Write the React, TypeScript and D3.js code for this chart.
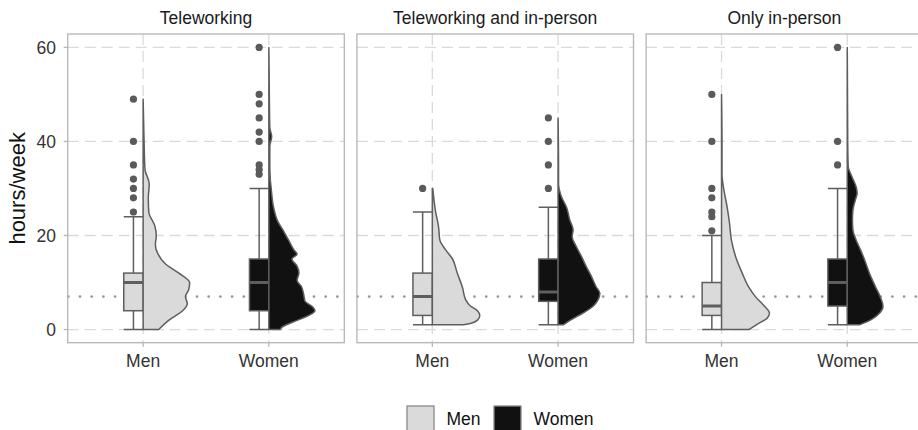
import React from "react";
import * as d3 from "d3";

// ---------- data ----------
const facets = ["Teleworking", "Teleworking and in-person", "Only in-person"];
const groups = ["Men", "Women"];
const yTicks = [0, 20, 40, 60];
const referenceHours = 7;

// box stats: [lowerWhisker, q1, median, q3, upperWhisker] per facet, per group
const menBoxes = [
  [0, 4, 10, 12, 24],
  [1, 3, 7, 12, 25],
  [0, 3, 5, 10, 20],
];
const womenBoxes = [
  [0, 4, 10, 15, 30],
  [1, 6, 8, 15, 26],
  [1, 5, 10, 15, 30],
];

const menOutliers = [
  [49, 40, 35, 32, 30, 28, 25],
  [30],
  [50, 40, 30, 28, 25, 24, 21],
];
const womenOutliers = [
  [60, 50, 48, 45, 42, 40, 35, 34, 33],
  [45, 40, 35, 30],
  [60, 40, 35],
];

// half-violin density profiles: [hours, relative density]
const menDensity1: [number, number][] = [[49,0],[40,0.02],[34,0.04],[31,0.13],[28,0.11],[25,0.12],[22,0.25],[20,0.28],[18,0.26],[16,0.32],[14,0.47],[12,0.76],[10,0.99],[8.5,0.97],[7,0.9],[5.5,0.94],[4,0.84],[2,0.55],[0,0.33]];
const womenDensity1: [number, number][] = [[60,0],[50,0.01],[43,0.02],[41,0.06],[39,0.02],[35,0.02],[32,0.03],[30,0.05],[26,0.1],[23,0.19],[21,0.31],[19,0.42],[17,0.53],[16,0.6],[15,0.49],[13.5,0.6],[12,0.64],[10.5,0.6],[9,0.7],[7.5,0.74],[6,0.77],[5,0.91],[4,0.98],[3,0.85],[1.5,0.49],[0.5,0.28],[0,0.24]];
const menDensity2: [number, number][] = [[30,0.01],[25,0.07],[22,0.13],[19,0.16],[17,0.28],[15,0.43],[12,0.53],[9,0.64],[6.3,0.71],[5,0.81],[4,0.96],[3,1.01],[2,0.96],[1.3,0.81],[1,0.66]];
const womenDensity2: [number, number][] = [[45,0],[35,0.01],[31,0.01],[28.3,0.07],[26,0.18],[23.3,0.25],[21.2,0.32],[19.8,0.3],[17.6,0.39],[15.5,0.5],[13.4,0.6],[11.3,0.71],[9.1,0.81],[7.7,0.89],[6.3,0.85],[4.9,0.74],[3.5,0.53],[2.1,0.28],[1,0.11]];
const menDensity3: [number, number][] = [[50,0],[40,0.01],[33,0.01],[29.7,0.05],[26,0.12],[22.6,0.17],[19,0.21],[15.5,0.3],[12,0.44],[9,0.58],[7,0.72],[5,0.91],[3.5,1.02],[2.4,0.97],[1.3,0.79],[0,0.58]];
const womenDensity3: [number, number][] = [[60,0],[40,0.01],[34.6,0.02],[33.2,0.07],[31.8,0.13],[30.3,0.19],[29,0.21],[27.5,0.17],[25.4,0.12],[23.3,0.11],[21.2,0.12],[19,0.19],[17,0.28],[14.8,0.37],[12,0.47],[9.1,0.6],[7,0.7],[4.9,0.76],[3.5,0.69],[2.1,0.51],[1,0.26]];

const menDensities = [menDensity1, menDensity2, menDensity3];
const womenDensities = [womenDensity1, womenDensity2, womenDensity3];

// ---------- style ----------
const W = 918;
const H = 430;
const FONT = "'Liberation Sans', Arial, Helvetica, sans-serif";
const panelLeft = 67.7;
const panelWidth = 276.6;
const panelGap = 12.6;
const panelTop = 34;
const panelBottom = 342.7;
const fills: Record<string, string> = { Men: "#dadada", Women: "#111111" };
const lineCol = "#5e5e5e";
const gridCol = "#dadada";
const borderCol = "#b5b5b5";
const boxW = 19.4;
const violinMax = 47;

export default function App() {
  const y = d3.scaleLinear().domain([-2.8, 62.85]).range([panelBottom, panelTop]);
  const wScale = d3.scaleLinear().domain([0, 1]).range([0, violinMax]);

  const panels = facets.map((f, fi) => {
    const left = panelLeft + fi * (panelWidth + panelGap);
    const x = d3.scalePoint<string>().domain(groups).range([left, left + panelWidth]).padding(0.6);
    return { f, fi, left, x };
  });

  const makeArea = (cx: number) =>
    d3
      .area<[number, number]>()
      .y((d) => y(d[0]))
      .x0(cx)
      .x1((d) => cx + wScale(d[1]))
      .curve(d3.curveMonotoneY);

  return (
    <svg width={W} height={H} style={{ position: "absolute", left: 0, top: 0, background: "#fff" }} fontFamily={FONT}>
      <rect x={0} y={0} width={W} height={H} fill="#fff" />
      {/* y axis title */}
      <text
        transform={`translate(25,${(panelTop + panelBottom) / 2}) rotate(-90)`}
        textAnchor="middle"
        fontSize={22}
        fill="#111"
      >
        hours/week
      </text>
      {panels.map(({ f, fi, left, x }) => (
        <g key={f}>
          <clipPath id={`clip${fi}`}>
            <rect x={left} y={panelTop} width={panelWidth} height={panelBottom - panelTop} />
          </clipPath>
          {/* grid */}
          {yTicks.map((t) => (
            <line key={t} x1={left} x2={left + panelWidth} y1={y(t)} y2={y(t)} stroke={gridCol} strokeWidth={1.3} strokeDasharray="11 6" />
          ))}
          {groups.map((g) => (
            <line key={g} x1={x(g)} x2={x(g)} y1={panelTop} y2={panelBottom} stroke={gridCol} strokeWidth={1.3} strokeDasharray="11 6" />
          ))}
          {/* reference line */}
          <line
            x1={left + 0.6}
            x2={left + panelWidth}
            y1={y(referenceHours)}
            y2={y(referenceHours)}
            stroke="#9a9a9a"
            strokeWidth={2.9}
            strokeDasharray="0 11.7"
            strokeLinecap="round"
          />
          <g clipPath={`url(#clip${fi})`}>
            {groups.map((g) => {
              const cx = x(g) as number;
              const dens = g === "Men" ? menDensities[fi] : womenDensities[fi];
              const box = g === "Men" ? menBoxes[fi] : womenBoxes[fi];
              const outs = g === "Men" ? menOutliers[fi] : womenOutliers[fi];
              const bx = cx - boxW;
              const wx = cx - boxW / 2;
              const area = makeArea(cx);
              return (
                <g key={g}>
                  {/* whiskers */}
                  <line x1={wx} x2={wx} y1={y(box[0])} y2={y(box[1])} stroke={lineCol} strokeWidth={1.5} />
                  <line x1={wx} x2={wx} y1={y(box[3])} y2={y(box[4])} stroke={lineCol} strokeWidth={1.5} />
                  <line x1={bx} x2={cx} y1={y(box[0])} y2={y(box[0])} stroke={lineCol} strokeWidth={1.5} />
                  <line x1={bx} x2={cx} y1={y(box[4])} y2={y(box[4])} stroke={lineCol} strokeWidth={1.5} />
                  {/* box */}
                  <rect x={bx} y={y(box[3])} width={boxW} height={y(box[1]) - y(box[3])} fill={fills[g]} stroke={lineCol} strokeWidth={1.5} />
                  <line x1={bx} x2={cx} y1={y(box[2])} y2={y(box[2])} stroke={lineCol} strokeWidth={3} />
                  {/* outliers */}
                  {outs.map((o, i) => (
                    <circle key={i} cx={wx} cy={y(o)} r={3.6} fill="#5a5a5a" />
                  ))}
                  {/* half violin */}
                  <path d={(area(dens) as string) + "Z"} fill={fills[g]} stroke={lineCol} strokeWidth={1.5} strokeLinejoin="round" />
                </g>
              );
            })}
          </g>
          {/* border */}
          <rect x={left} y={panelTop} width={panelWidth} height={panelBottom - panelTop} fill="none" stroke={borderCol} strokeWidth={1.3} />
          {/* facet title */}
          <text x={left + panelWidth / 2} y={23.5} textAnchor="middle" fontSize={17.5} fill="#1a1a1a">
            {f}
          </text>
          {/* x ticks */}
          {groups.map((g) => (
            <g key={g}>
              <line x1={x(g)} x2={x(g)} y1={panelBottom} y2={panelBottom + 4} stroke={borderCol} strokeWidth={1.3} />
              <text x={x(g)} y={366.5} textAnchor="middle" fontSize={17.5} fill="#333">
                {g}
              </text>
            </g>
          ))}
          {/* y ticks */}
          {fi === 0 &&
            yTicks.map((t) => (
              <g key={t}>
                <line x1={left - 4} x2={left} y1={y(t)} y2={y(t)} stroke={borderCol} strokeWidth={1.3} />
                <text x={56} y={y(t)} dy="0.35em" textAnchor="end" fontSize={17.5} fill="#333">
                  {t}
                </text>
              </g>
            ))}
        </g>
      ))}
      {/* legend */}
      {groups.map((g, i) => (
        <g key={g} transform={`translate(${407 + i * 87},406)`}>
          <rect x={0} y={0} width={27} height={27} fill={fills[g]} stroke="#8a8a8a" strokeWidth={1.3} />
          <text x={39.5} y={19} fontSize={17.5} fill="#111">
            {g}
          </text>
        </g>
      ))}
    </svg>
  );
}
